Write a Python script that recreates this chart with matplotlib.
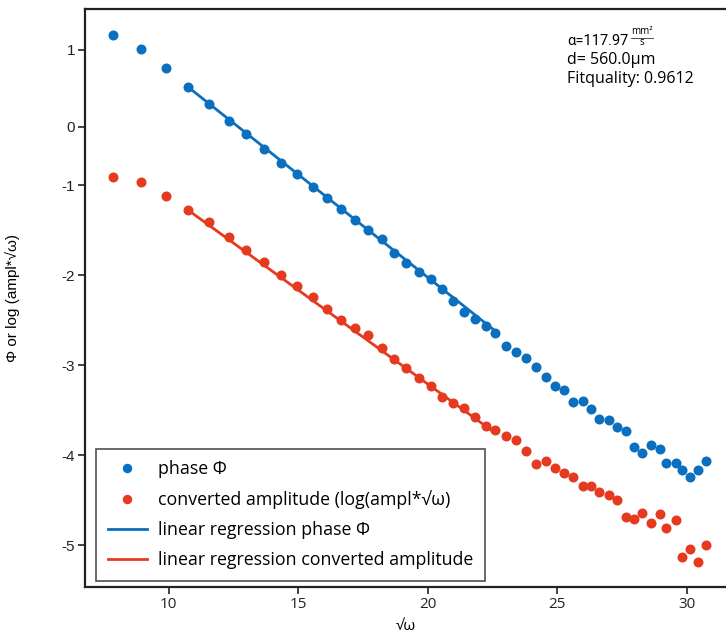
import matplotlib
matplotlib.use("Agg")
import matplotlib.pyplot as plt
from matplotlib.lines import Line2D

# ---- data ----
sqrt_omega = [7.846, 8.927, 9.892, 10.741, 11.552, 12.324, 12.981, 13.676, 14.332, 14.950,
              15.568, 16.108, 16.649, 17.189, 17.691, 18.232, 18.695, 19.158, 19.660, 20.124,
              20.548, 20.973, 21.398, 21.822, 22.247, 22.595, 23.019, 23.405, 23.792, 24.178,
              24.564, 24.911, 25.259, 25.606, 25.992, 26.301, 26.610, 26.996, 27.305, 27.653,
              27.961, 28.270, 28.618, 28.965, 29.197, 29.583, 29.815, 30.124, 30.432, 30.741]

phase = [0.674, 0.518, 0.307, 0.096, -0.093, -0.283, -0.427, -0.594, -0.750, -0.872,
         -1.017, -1.139, -1.261, -1.384, -1.495, -1.595, -1.751, -1.862, -1.962, -2.040,
         -2.151, -2.285, -2.407, -2.485, -2.563, -2.641, -2.785, -2.852, -2.919, -3.019,
         -3.130, -3.230, -3.275, -3.408, -3.397, -3.486, -3.597, -3.608, -3.686, -3.731,
         -3.909, -3.976, -3.887, -3.931, -4.087, -4.087, -4.165, -4.243, -4.165, -4.065]

amplitude = [-0.905, -0.961, -1.117, -1.273, -1.406, -1.573, -1.717, -1.851, -1.996, -2.118,
             -2.240, -2.374, -2.496, -2.585, -2.663, -2.808, -2.930, -3.030, -3.141, -3.230,
             -3.353, -3.419, -3.475, -3.575, -3.675, -3.720, -3.786, -3.831, -3.953, -4.098,
             -4.065, -4.142, -4.198, -4.243, -4.343, -4.343, -4.409, -4.443, -4.498, -4.687,
             -4.710, -4.643, -4.754, -4.654, -4.810, -4.721, -5.132, -5.043, -5.188, -4.999]

fit_x = [10.741, 22.60]
fit_phase = [0.096, -2.618]
fit_amp = [-1.273, -3.753]

ytick_vals = [0.507, -0.349, -1, -2, -3, -4, -5]
ytick_labels = ["1", "0", "-1", "-2", "-3", "-4", "-5"]
xtick_vals = [10, 15, 20, 25, 30]
xtick_labels = ["10", "15", "20", "25", "30"]

BLUE = "#0B6FBF"
RED = "#E53A1F"
UI_FONT = ["Open Sans", "DejaVu Sans"]
NARROW = ["Roboto", "DejaVu Sans"]
ARIAL = ["Liberation Sans", "DejaVu Sans"]

fig = plt.figure(figsize=(7.26, 6.39), dpi=100)
ax = fig.add_axes([85/726, 1 - 587/639, 1 - 85/726, (587 - 9)/639])

ax.scatter(sqrt_omega, phase, s=52, color=BLUE, zorder=3, linewidths=0)
ax.scatter(sqrt_omega, amplitude, s=52, color=RED, zorder=3, linewidths=0)
ax.plot(fit_x, fit_phase, color=BLUE, lw=2, zorder=2)
ax.plot(fit_x, fit_amp, color=RED, lw=2, zorder=2)

ax.set_xlim(6.764, 31.51)
ax.set_ylim(-5.466, 0.963)

ax.set_xticks(xtick_vals)
ax.set_xticklabels(xtick_labels, fontfamily=UI_FONT, fontsize=11)
ax.set_yticks(ytick_vals)
ax.set_yticklabels(ytick_labels, fontfamily=ARIAL, fontsize=11, color="#222222")
ax.tick_params(direction="out", length=5, width=1.2, colors="#222222", pad=2)
for s in ["left", "bottom", "top"]:
    ax.spines[s].set_linewidth(1.6)
    ax.spines[s].set_color("#222222")
ax.spines["right"].set_visible(False)

ax.set_xlabel("√ω", fontfamily=UI_FONT, fontsize=11, labelpad=5)
ax.set_ylabel("Φ or log (ampl*√ω)", fontfamily=ARIAL, fontsize=11, labelpad=30)

handles = [
    Line2D([], [], ls="none", marker="o", ms=6.8, color=BLUE, mew=0),
    Line2D([], [], ls="none", marker="o", ms=6.8, color=RED, mew=0),
    Line2D([], [], color=BLUE, lw=2),
    Line2D([], [], color=RED, lw=2),
]
labels = ["phase Φ", "converted amplitude (log(ampl*√ω)",
          "linear regression phase Φ", "linear regression converted amplitude"]
leg = ax.legend(handles, labels, loc="lower left",
                bbox_to_anchor=((96 - 85)/641, (587 - 581)/578),
                borderaxespad=0, frameon=True, fancybox=False,
                prop={"family": UI_FONT, "size": 12.8}, handlelength=2.2,
                handletextpad=0.65, labelspacing=0.68, borderpad=0.65)
leg.get_frame().set_edgecolor("#222222")
leg.get_frame().set_linewidth(1.2)

# annotation (top right)
def fx(px):
    return px / 726
def fy(py):
    return 1 - py / 639

t_alpha = fig.text(fx(567), fy(45), "α=117.97", fontfamily=NARROW, fontsize=10.5,
                   va="baseline")
fig.canvas.draw()
bb = t_alpha.get_window_extent()
x_end = bb.x1 + 3
cx = x_end + 11
fig.text(cx / 726, fy(34), "mm²", fontfamily=UI_FONT, fontsize=7, va="baseline", ha="center")
fig.add_artist(Line2D([(cx - 11) / 726, (cx + 11) / 726], [fy(37.5), fy(37.5)],
                      color="#333333", lw=0.6))
fig.text(cx / 726, fy(45), "s", fontfamily=UI_FONT, fontsize=7, va="baseline", ha="center")
fig.text(fx(567), fy(64), "d= 560.0μm", fontfamily=UI_FONT, fontsize=11.5, va="baseline")
fig.text(fx(567), fy(83), "Fitquality: 0.9612", fontfamily=UI_FONT, fontsize=11.5, va="baseline")

fig.savefig("out.png", dpi=100)
